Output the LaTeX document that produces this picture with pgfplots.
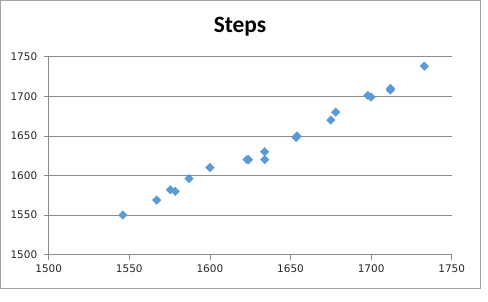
\documentclass[border=0pt]{standalone}
\usepackage{pgfplots}
\pgfplotsset{compat=1.18}
\usepackage{fontspec}
\setmainfont{DejaVu Sans}
\newfontfamily\titlefont{Carlito}
\definecolor{ser}{HTML}{5B9BD5}
\definecolor{gridc}{HTML}{8C8C8C}
\begin{document}
\begin{tikzpicture}[x=1bp,y=1bp]
\path[fill=white] (0,0) rectangle (488,301);
\draw[color=gridc!80,line width=0.8bp] (0.5,13) rectangle (480.7,300.5);
\node[font=\titlefont\bfseries\fontsize{23.5}{26}\selectfont] at (240,274) {Steps};
\begin{axis}[
  at={(48.7bp,46.3bp)}, anchor=south west,
  scale only axis, width=403bp, height=198bp,
  xmin=1500, xmax=1750, ymin=1500, ymax=1750,
  xtick={1500,1550,...,1750}, ytick={1500,1550,...,1750},
  axis lines=left,
  axis line style={-, color=gridc, line width=0.8bp},
  ymajorgrids, grid style={color=gridc, line width=0.8bp},
  tick align=outside, major tick length=5bp,
  tick style={color=gridc, line width=0.8bp},
  ticklabel style={font=\fontsize{10.5}{12}\selectfont, text=black!85},
  /pgf/number format/assume math mode=true,
  /pgf/number format/1000 sep={},
  xticklabel style={yshift=-2bp},
  yticklabel style={xshift=-3bp},
  clip=false,
]
\addplot[only marks, mark=square*, mark size=3bp, mark options={fill=ser, draw=ser, rotate=45}]
coordinates {
(1546,1550) (1567,1569) (1575.5,1582) (1578.5,1580) (1587,1596) (1600,1610)
(1623,1620) (1624,1620) (1634,1630) (1634,1620) (1653.5,1648) (1654,1650)
(1675,1670) (1678,1680) (1698,1701) (1700,1699) (1712,1708) (1712,1710) (1733,1738)
};
\end{axis}
\end{tikzpicture}
\end{document}
